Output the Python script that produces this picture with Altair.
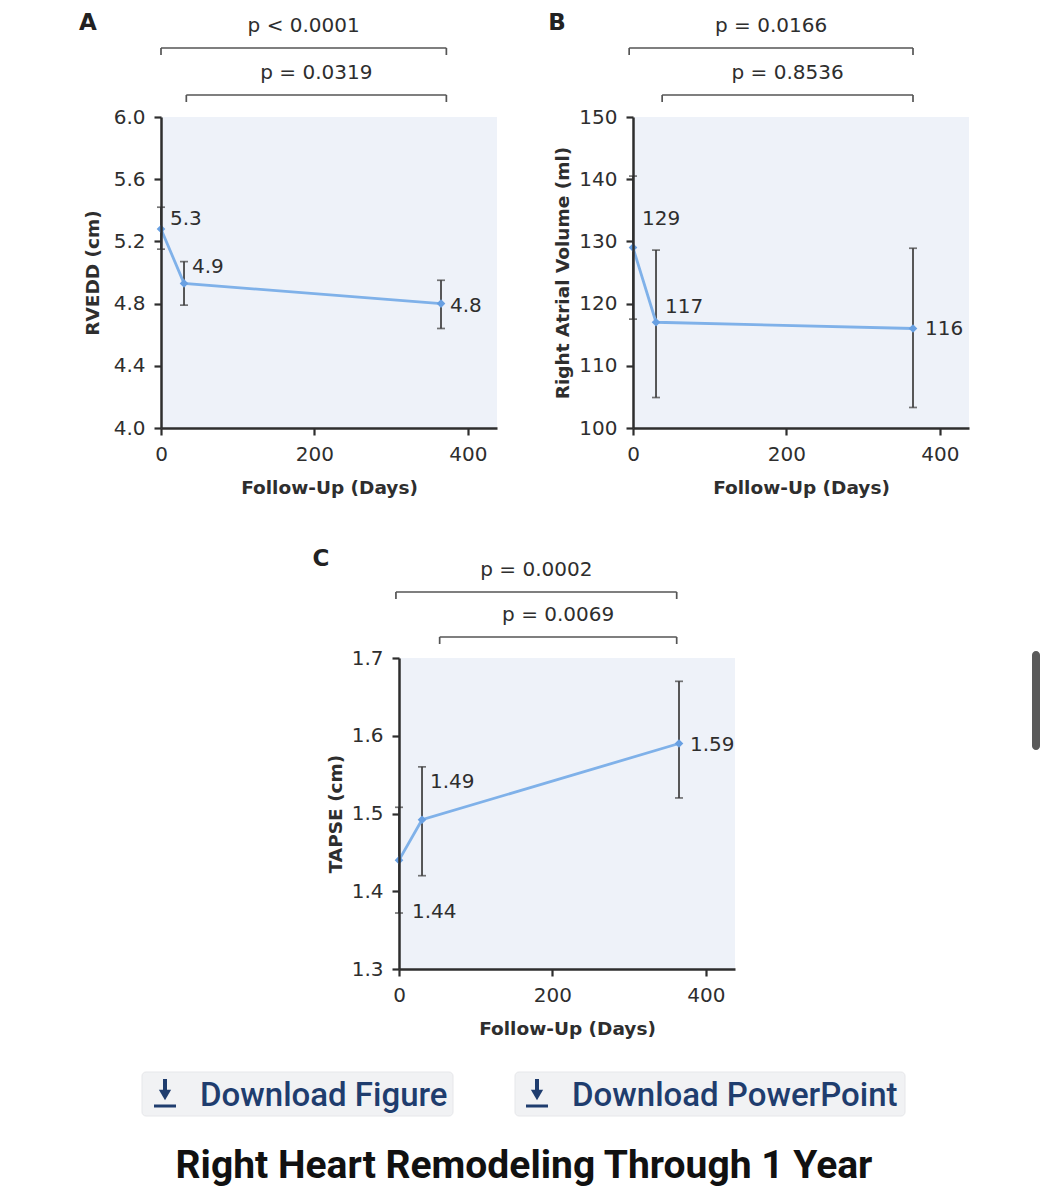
import altair as alt
import pandas as pd

# ---------------- data ----------------
days = [0, 30, 365]

rvedd_mean = [5.28, 4.93, 4.80]
rvedd_lo = [5.15, 4.79, 4.64]
rvedd_hi = [5.42, 5.07, 4.95]
rvedd_labels = ["5.3", "4.9", "4.8"]

rav_mean = [129.0, 117.0, 116.0]
rav_lo = [117.5, 104.9, 103.3]
rav_hi = [140.5, 128.6, 128.9]
rav_labels = ["129", "117", "116"]

tapse_mean = [1.44, 1.492, 1.59]
tapse_lo = [1.372, 1.42, 1.52]
tapse_hi = [1.508, 1.56, 1.67]
tapse_labels = ["1.44", "1.49", "1.59"]

x_ticks = [0, 200, 400]
rvedd_ticks = [4.0, 4.4, 4.8, 5.2, 5.6, 6.0]
rav_ticks = [100, 110, 120, 130, 140, 150]
tapse_ticks = [1.3, 1.4, 1.5, 1.6, 1.7]

p_text_a = ["p < 0.0001", "p = 0.0319"]
p_text_b = ["p = 0.0166", "p = 0.8536"]
p_text_c = ["p = 0.0002", "p = 0.0069"]
# bracket spans in days
bracket_start_a = [0, 33]
bracket_end_a = [372, 372]
bracket_start_b = [-5, 38]
bracket_end_b = [365, 365]
bracket_start_c = [-4, 53]
bracket_end_c = [362, 362]

buttons = ["Download Figure", "Download PowerPoint"]
page_title = "Right Heart Remodeling Through 1 Year"

# ---------------- style ----------------
X_DOMAIN = [0, 438]
BG = "#eef2f9"
LINE = "#7fb1e9"
POINT = "#68a0e2"
ERR = "#3c3c3c"
INK = "#2e2e2e"
FONT = "DejaVu Sans"
BLUE = "#1f3d6e"
W, H = 1033, 1180


def make_panel(cfg):
    df = pd.DataFrame({"day": days, "mean": cfg["mean"], "lo": cfg["lo"],
                       "hi": cfg["hi"], "label": cfg["labels"]})
    xs = alt.Scale(domain=X_DOMAIN, range=cfg["xrange"], nice=False, zero=False)
    ys = alt.Scale(domain=cfg["ydomain"], range=cfg["yrange"], nice=False, zero=False)
    ax_x = cfg["xrange"][0]
    ax_y = cfg["yrange"][0]
    x_axis = alt.Axis(
        orient="bottom", offset=ax_y - H, values=x_ticks, format="d",
        title="Follow-Up (Days)", grid=False, zindex=1, labelFlush=False,
        labelOverlap=False,
        domainColor=INK, domainWidth=2.5, tickColor=INK, tickWidth=2.2, tickSize=7,
        labelFont=FONT, labelFontSize=20, labelColor=INK, labelPadding=9,
        titleFont=FONT, titleFontSize=18.5, titleFontWeight="bold", titleColor=INK,
        titleBaseline="middle", titleAlign="center",
        titleX=(cfg["xrange"][0] + cfg["xrange"][1]) / 2, titleY=59,
    )
    y_axis = alt.Axis(
        orient="left", offset=-ax_x, values=cfg["yticks"], format=cfg["yfmt"],
        title=cfg["ytitle"], grid=False, zindex=1, labelFlush=False,
        labelOverlap=False,
        domainColor=INK, domainWidth=2.5, tickColor=INK, tickWidth=2.2, tickSize=7,
        labelFont=FONT, labelFontSize=20, labelColor=INK, labelPadding=9,
        titleFont=FONT, titleFontSize=18.5, titleFontWeight="bold", titleColor=INK,
        titleBaseline="middle", titleAlign="center", titleAngle=270,
        titleX=cfg["ytitle_dx"], titleY=(cfg["yrange"][0] + cfg["yrange"][1]) / 2,
    )
    bgdf = pd.DataFrame({"x0": [X_DOMAIN[0]], "x1": [X_DOMAIN[1]],
                         "y0": [cfg["ydomain"][0]], "y1": [cfg["ydomain"][1]]})
    layers = []
    layers.append(alt.Chart(bgdf).mark_rect(fill=BG).encode(
        x=alt.X("x0:Q", scale=xs, axis=x_axis), x2="x1:Q",
        y=alt.Y("y0:Q", scale=ys, axis=y_axis), y2="y1:Q"))
    X = alt.X("day:Q", scale=xs, axis=None)
    layers.append(alt.Chart(df).mark_rule(color=ERR, strokeWidth=1.7).encode(
        x=X, y=alt.Y("lo:Q", scale=ys, axis=None), y2="hi:Q"))
    for f in ["lo", "hi"]:
        layers.append(alt.Chart(df).mark_tick(color=ERR, orient="horizontal", size=8,
                                              thickness=1.7).encode(
            x=X, y=alt.Y(f + ":Q", scale=ys, axis=None)))
    layers.append(alt.Chart(df).mark_line(color=LINE, strokeWidth=2.8).encode(
        x=X, y=alt.Y("mean:Q", scale=ys, axis=None)))
    layers.append(alt.Chart(df).mark_point(shape="diamond", filled=True, size=75,
                                           color=POINT, opacity=1).encode(
        x=X, y=alt.Y("mean:Q", scale=ys, axis=None)))
    for i, (dx, dy) in enumerate(cfg["label_offsets"]):
        layers.append(alt.Chart(df.iloc[[i]]).mark_text(
            align="left", baseline="middle", dx=dx, dy=dy, font=FONT, fontSize=20,
            color=INK).encode(x=X, y=alt.Y("mean:Q", scale=ys, axis=None),
                              text="label:N"))
    # significance brackets
    br = pd.DataFrame({"start": cfg["br_start"], "end": cfg["br_end"], "ptext": cfg["ptexts"]})
    for j in range(len(br)):
        row = br.iloc[[j]]
        yb = cfg["br_y"][j]
        layers.append(alt.Chart(row).mark_rule(color="#555555", strokeWidth=1.7).encode(
            x=alt.X("start:Q", scale=xs, axis=None), x2="end:Q", y=alt.value(yb)))
        for f in ["start", "end"]:
            layers.append(alt.Chart(row).mark_rule(color="#555555", strokeWidth=1.7).encode(
                x=alt.X(f + ":Q", scale=xs, axis=None), y=alt.value(yb), y2=alt.value(yb + 7)))
        layers.append(alt.Chart(row).transform_calculate(
            mid="(datum.start + datum.end) / 2").mark_text(
            align="center", baseline="middle", font=FONT, fontSize=20, color=INK).encode(
            x=alt.X("mid:Q", scale=xs, axis=None), y=alt.value(yb - 22), text="ptext:N"))
    layers.append(alt.Chart(pd.DataFrame({"t": [cfg["letter"]]})).mark_text(
        align="center", baseline="top", font=FONT, fontSize=23, fontWeight="bold",
        color="#222222").encode(x=alt.value(cfg["letter_xy"][0]),
                                y=alt.value(cfg["letter_xy"][1]), text="t:N"))
    return layers


panel_a = make_panel(dict(
    mean=rvedd_mean, lo=rvedd_lo, hi=rvedd_hi, labels=rvedd_labels,
    xrange=[153, 489], yrange=[420, 109], ydomain=[4.0, 6.0], yticks=rvedd_ticks,
    yfmt=".1f", ytitle="RVEDD (cm)", ytitle_dx=-69,
    label_offsets=[(9, -10), (8, -16), (9, 2)],
    br_start=bracket_start_a, br_end=bracket_end_a, ptexts=p_text_a, br_y=[40, 87],
    letter="A", letter_xy=(80, 4)))

panel_b = make_panel(dict(
    mean=rav_mean, lo=rav_lo, hi=rav_hi, labels=rav_labels,
    xrange=[625, 961], yrange=[420, 109], ydomain=[100, 150], yticks=rav_ticks,
    yfmt="d", ytitle="Right Atrial Volume (ml)", ytitle_dx=-71,
    label_offsets=[(9, -29), (9, -15), (12, 1)],
    br_start=bracket_start_b, br_end=bracket_end_b, ptexts=p_text_b, br_y=[40, 87],
    letter="B", letter_xy=(549, 4)))

panel_c = make_panel(dict(
    mean=tapse_mean, lo=tapse_lo, hi=tapse_hi, labels=tapse_labels,
    xrange=[391, 727], yrange=[961, 650], ydomain=[1.3, 1.7], yticks=tapse_ticks,
    yfmt=".1f", ytitle="TAPSE (cm)", ytitle_dx=-64,
    label_offsets=[(13, 52), (8, -38), (11, 1)],
    br_start=bracket_start_c, br_end=bracket_end_c, ptexts=p_text_c, br_y=[584, 629],
    letter="C", letter_xy=(313, 540)))

# ---------------- page chrome below the figure ----------------
one = pd.DataFrame({"k": [0]})
footer = []
for (x0, x1, ix, tx), label in zip([(134, 445, 157, 192), (507, 897, 529, 564)], buttons):
    footer.append(alt.Chart(one).mark_rect(fill="#f1f2f4", cornerRadius=4,
                                           stroke="#e6e7ea", strokeWidth=1).encode(
        x=alt.value(x0), x2=alt.value(x1), y=alt.value(1064), y2=alt.value(1108)))
    footer.append(alt.Chart(one).mark_rule(color=BLUE, strokeWidth=4).encode(
        x=alt.value(ix), y=alt.value(1071), y2=alt.value(1084)))
    footer.append(alt.Chart(one).mark_point(shape="triangle-down", filled=True, size=150,
                                            color=BLUE, opacity=1).encode(
        x=alt.value(ix), y=alt.value(1087)))
    footer.append(alt.Chart(one).mark_rule(color=BLUE, strokeWidth=3).encode(
        x=alt.value(ix - 11), x2=alt.value(ix + 11), y=alt.value(1098)))
    footer.append(alt.Chart(one).mark_text(
        text=label, align="left", baseline="alphabetic", font="Roboto", fontSize=33,
        fontWeight=500, color=BLUE).encode(x=alt.value(tx), y=alt.value(1098)))
footer.append(alt.Chart(one).mark_text(
    text=page_title, align="center", baseline="alphabetic", font="Roboto", fontSize=39,
    fontWeight="bold", color="#111111").encode(x=alt.value(516), y=alt.value(1170)))
footer.append(alt.Chart(one).mark_rect(fill="#5a5a5a", cornerRadius=4).encode(
    x=alt.value(1024), x2=alt.value(1032), y=alt.value(643), y2=alt.value(742)))

chart = alt.layer(*panel_a, *panel_b, *panel_c, *footer).resolve_scale(
    x="independent", y="independent").properties(
    width=W, height=H, padding=0, autosize=alt.AutoSizeParams(type="none"),
    background="white").configure_view(stroke=None)

chart.save("out.html", embed_options={"renderer": "svg", "actions": False})
